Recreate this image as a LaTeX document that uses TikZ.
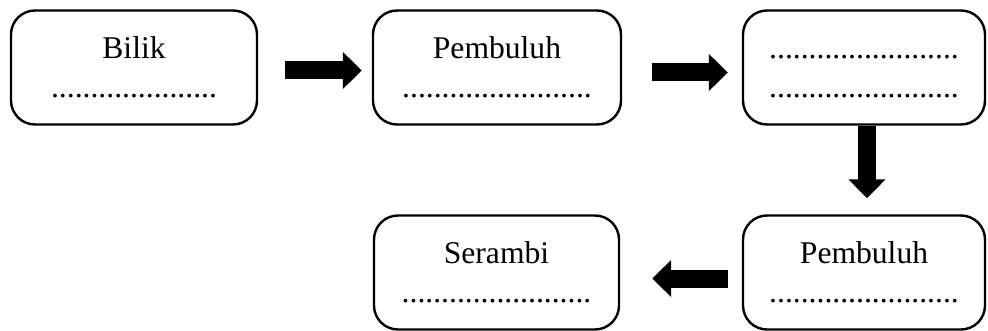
\documentclass[tikz,border=0pt]{standalone}
\usepackage{fontspec}
\setmainfont{Liberation Serif}
\usetikzlibrary{arrows.meta}
\begin{document}
\begin{tikzpicture}
        [x = 0.5pt, y = -0.5pt,
            room node/.style = {draw, line width=1.2pt, rounded corners=12pt,
                minimum height=57pt, align=center,
                font=\fontsize{15.8}{19.5}\selectfont},
            flow arrow/.style = {line width=9pt,
                -{Triangle[length=9.5pt, width=18pt]}}]

        \useasboundingbox (0,0) rectangle (988,331);

        \node[room node, minimum width=123pt] (bilik) at (134,67.5)
            {Bilik\\.....................};
        \node[room node, minimum width=124pt] (pembuluhA) at (497,67.5)
            {Pembuluh\\........................};
        \node[room node, minimum width=121pt] (kosong) at (864,67.5)
            {\vphantom{Pb}........................\\........................};
        \node[room node, minimum width=122.5pt] (serambi) at (496.5,272.5)
            {Serambi\\........................};
        \node[room node, minimum width=121pt] (pembuluhB) at (864,272.5)
            {Pembuluh\\........................};

        \draw[flow arrow, shorten <=13.5pt, shorten >=5pt]
            ([yshift=-1.5pt]bilik.east) -- ([yshift=-1.5pt]pembuluhA.west);
        \draw[flow arrow, shorten <=15pt, shorten >=7pt]
            ([yshift=-2.5pt]pembuluhA.east) -- ([yshift=-2.5pt]kosong.west);
        \draw[flow arrow, shorten <=0pt, shorten >=8pt]
            ([xshift=1.5pt]kosong.south) -- ([xshift=1.5pt]pembuluhB.north);
        \draw[flow arrow, shorten <=7pt, shorten >=16pt]
            ([yshift=-3pt]pembuluhB.west) -- ([yshift=-3pt]serambi.east);
    \end{tikzpicture}
\end{document}
